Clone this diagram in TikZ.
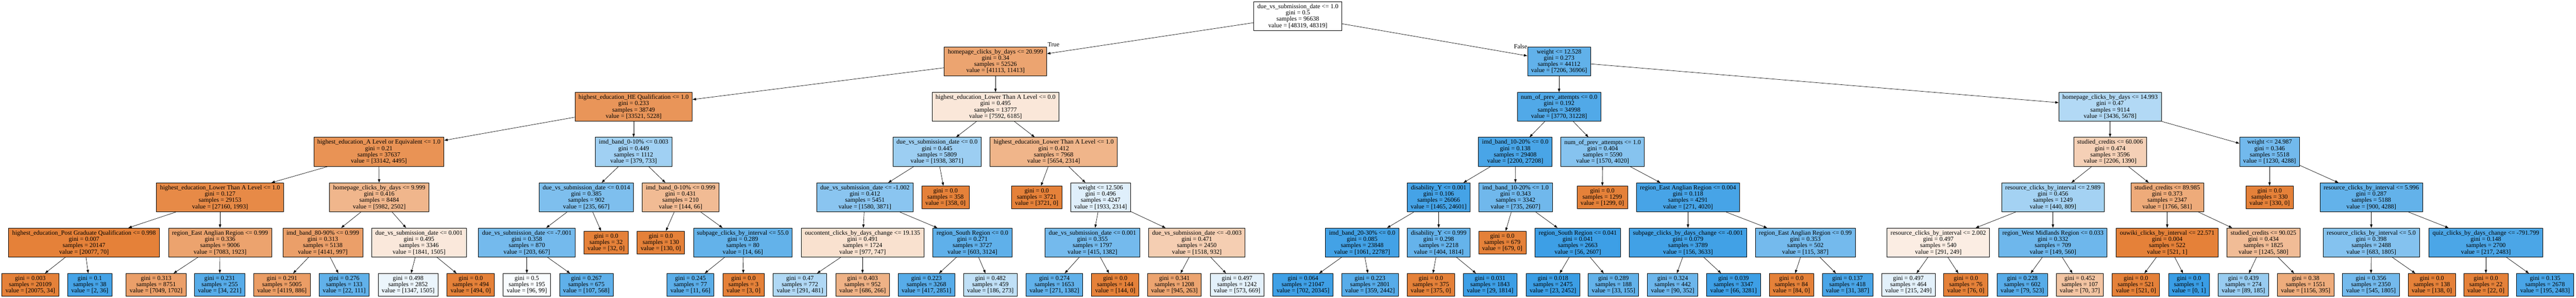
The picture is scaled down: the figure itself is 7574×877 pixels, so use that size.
\documentclass[tikz,border=0pt]{standalone}
\usepackage{fontspec}
\setmainfont{Liberation Serif}
\usetikzlibrary{arrows.meta}
\definecolor{clsa}{RGB}{229,129,57}
\definecolor{clsb}{RGB}{57,157,229}
\def\rowlist{{47.5,180.5,314.5,447,581,714,838.5}}
\newcommand{\boxfill}[2]{\ifnum#1<#2\relax\edef\shadepct{\fpeval{round(100*(1-#1/#2))}}\colorlet{boxcol}{clsb!\shadepct!white}\else\edef\shadepct{\fpeval{round(100*(1-#2/#1))}}\colorlet{boxcol}{clsa!\shadepct!white}\fi}
\newcommand{\dnode}[8]{\boxfill{#7}{#8}\pgfmathsetmacro{\rowy}{\rowlist[#3]}\node[splitbox,fill=boxcol](#1) at (#2,-\rowy) {#4\\gini = #5\\samples = #6\\value = [#7, #8]};}
\newcommand{\leaf}[7]{\boxfill{#6}{#7}\pgfmathsetmacro{\rowy}{\rowlist[#3]}\node[leafbox,fill=boxcol](#1) at (#2,-\rowy) {gini = #4\\samples = #5\\value = [#6, #7]};}
\newcommand{\branch}[2]{\draw[arr] (#1) -- (#2);}

\begin{document}
\begin{tikzpicture}[x=1pt,y=1pt,
	every node/.style={font=\fontsize{18.5}{18.6}\selectfont},
	splitbox/.style={draw,line width=1.2pt,align=center,inner xsep=10.5pt,inner ysep=0pt,minimum height=85.5pt},
	leafbox/.style={splitbox,minimum height=67pt},
	arr/.style={-{Triangle[length=10pt,width=7pt]},line width=1pt},
	edgelab/.style={inner sep=0pt}]
			\useasboundingbox (0,0) rectangle (7574,-877);
			\dnode{0}{3816}{0}{due\_vs\_submission\_date <= 1.0}{0.5}{96638}{48319}{48319}
			\dnode{1}{2927}{1}{homepage\_clicks\_by\_days <= 20.999}{0.34}{52526}{41113}{11413}
			\dnode{2}{1863}{2}{highest\_education\_HE Qualification <= 1.0}{0.233}{38749}{33521}{5228}
			\dnode{3}{1114}{3}{highest\_education\_A Level or Equivalent <= 1.0}{0.21}{37637}{33142}{4495}
			\dnode{4}{647}{4}{highest\_education\_Lower Than A Level <= 1.0}{0.127}{29153}{27160}{1993}
			\dnode{5}{247}{5}{highest\_education\_Post Graduate Qualification <= 0.998}{0.007}{20147}{20077}{70}
			\leaf{6}{89}{6}{0.003}{20109}{20075}{34}
			\leaf{7}{264}{6}{0.1}{38}{2}{36}
			\dnode{8}{647}{5}{region\_East Anglian Region <= 0.999}{0.336}{9006}{7083}{1923}
			\leaf{9}{459}{6}{0.313}{8751}{7049}{1702}
			\leaf{10}{646}{6}{0.231}{255}{34}{221}
			\dnode{11}{1115}{4}{homepage\_clicks\_by\_days <= 9.999}{0.416}{8484}{5982}{2502}
			\dnode{12}{949}{5}{imd\_band\_80-90\% <= 0.999}{0.313}{5138}{4141}{997}
			\leaf{13}{829}{6}{0.291}{5005}{4119}{886}
			\leaf{14}{1012}{6}{0.276}{133}{22}{111}
			\dnode{15}{1232}{5}{due\_vs\_submission\_date <= 0.001}{0.495}{3346}{1841}{1505}
			\leaf{16}{1200}{6}{0.498}{2852}{1347}{1505}
			\leaf{17}{1384}{6}{0.0}{494}{494}{0}
			\dnode{18}{1863}{3}{imd\_band\_0-10\% <= 0.003}{0.449}{1112}{379}{733}
			\dnode{19}{1724}{4}{due\_vs\_submission\_date <= 0.014}{0.385}{902}{235}{667}
			\dnode{20}{1549}{5}{due\_vs\_submission\_date <= -7.001}{0.358}{870}{203}{667}
			\leaf{21}{1549}{6}{0.5}{195}{96}{99}
			\leaf{22}{1724}{6}{0.267}{675}{107}{568}
			\leaf{23}{1782}{5}{0.0}{32}{32}{0}
			\dnode{24}{2001}{4}{imd\_band\_0-10\% <= 0.999}{0.431}{210}{144}{66}
			\leaf{25}{1943}{5}{0.0}{130}{130}{0}
			\dnode{26}{2184}{5}{subpage\_clicks\_by\_interval <= 55.0}{0.289}{80}{14}{66}
			\leaf{27}{2030}{6}{0.245}{77}{11}{66}
			\leaf{28}{2186}{6}{0.0}{3}{3}{0}
			\dnode{29}{2927}{2}{highest\_education\_Lower Than A Level <= 0.0}{0.495}{13777}{7592}{6185}
			\dnode{30}{2755}{3}{due\_vs\_submission\_date <= 0.0}{0.445}{5809}{1938}{3871}
			\dnode{31}{2543}{4}{due\_vs\_submission\_date <= -1.002}{0.412}{5451}{1580}{3871}
			\dnode{32}{2536}{5}{oucontent\_clicks\_by\_days\_change <= 19.135}{0.491}{1724}{977}{747}
			\leaf{33}{2352}{6}{0.47}{772}{291}{481}
			\leaf{34}{2536}{6}{0.403}{952}{686}{266}
			\dnode{35}{2859}{5}{region\_South Region <= 0.0}{0.271}{3727}{603}{3124}
			\leaf{36}{2724}{6}{0.223}{3268}{417}{2851}
			\leaf{37}{2912}{6}{0.482}{459}{186}{273}
			\leaf{38}{2780}{4}{0.0}{358}{358}{0}
			\dnode{39}{3098}{3}{highest\_education\_Lower Than A Level <= 1.0}{0.412}{7968}{5654}{2314}
			\leaf{40}{3048}{4}{0.0}{3721}{3721}{0}
			\dnode{41}{3236}{4}{weight <= 12.506}{0.496}{4247}{1933}{2314}
			\dnode{42}{3212}{5}{due\_vs\_submission\_date <= 0.001}{0.355}{1797}{415}{1382}
			\leaf{43}{3100}{6}{0.274}{1653}{271}{1382}
			\leaf{44}{3279}{6}{0.0}{144}{144}{0}
			\dnode{45}{3519}{5}{due\_vs\_submission\_date <= -0.003}{0.471}{2450}{1518}{932}
			\leaf{46}{3453}{6}{0.341}{1208}{945}{263}
			\leaf{47}{3637}{6}{0.497}{1242}{573}{669}
			\dnode{48}{4584}{1}{weight <= 12.528}{0.273}{44112}{7206}{36906}
			\dnode{49}{4584}{2}{num\_of\_prev\_attempts <= 0.0}{0.192}{34998}{3770}{31228}
			\dnode{50}{4455}{3}{imd\_band\_10-20\% <= 0.0}{0.138}{29408}{2200}{27208}
			\dnode{51}{4230}{4}{disability\_Y <= 0.001}{0.106}{26066}{1465}{24601}
			\dnode{52}{4005}{5}{imd\_band\_20-30\% <= 0.0}{0.085}{23848}{1061}{22787}
			\leaf{53}{3831}{6}{0.064}{21047}{702}{20345}
			\leaf{54}{4028}{6}{0.223}{2801}{359}{2442}
			\dnode{55}{4230}{5}{disability\_Y <= 0.999}{0.298}{2218}{404}{1814}
			\leaf{56}{4207}{6}{0.0}{375}{375}{0}
			\leaf{57}{4381}{6}{0.031}{1843}{29}{1814}
			\dnode{58}{4456}{4}{imd\_band\_10-20\% <= 1.0}{0.343}{3342}{735}{2607}
			\leaf{59}{4417}{5}{0.0}{679}{679}{0}
			\dnode{60}{4639}{5}{region\_South Region <= 0.041}{0.041}{2663}{56}{2607}
			\leaf{61}{4566}{6}{0.018}{2475}{23}{2452}
			\leaf{62}{4744}{6}{0.289}{188}{33}{155}
			\dnode{63}{4712}{3}{num\_of\_prev\_attempts <= 1.0}{0.404}{5590}{1570}{4020}
			\leaf{64}{4711}{4}{0.0}{1299}{1299}{0}
			\dnode{65}{4963}{4}{region\_East Anglian Region <= 0.004}{0.118}{4291}{271}{4020}
			\dnode{66}{4963}{5}{subpage\_clicks\_by\_days\_change <= -0.001}{0.079}{3789}{156}{3633}
			\leaf{67}{4918}{6}{0.324}{442}{90}{352}
			\leaf{68}{5097}{6}{0.039}{3347}{66}{3281}
			\dnode{69}{5308}{5}{region\_East Anglian Region <= 0.99}{0.353}{502}{115}{387}
			\leaf{70}{5267}{6}{0.0}{84}{84}{0}
			\leaf{71}{5432}{6}{0.137}{418}{31}{387}
			\dnode{72}{6204}{2}{homepage\_clicks\_by\_days <= 14.993}{0.47}{9114}{3436}{5678}
			\dnode{73}{6204}{3}{studied\_credits <= 60.006}{0.474}{3596}{2206}{1390}
			\dnode{74}{6036}{4}{resource\_clicks\_by\_interval <= 2.989}{0.456}{1249}{440}{809}
			\dnode{75}{5699}{5}{resource\_clicks\_by\_interval <= 2.002}{0.497}{540}{291}{249}
			\leaf{76}{5611}{6}{0.497}{464}{215}{249}
			\leaf{77}{5780}{6}{0.0}{76}{76}{0}
			\dnode{78}{6036}{5}{region\_West Midlands Region <= 0.033}{0.332}{709}{149}{560}
			\leaf{79}{5946}{6}{0.228}{602}{79}{523}
			\leaf{80}{6115}{6}{0.452}{107}{70}{37}
			\dnode{81}{6372}{4}{studied\_credits <= 89.985}{0.373}{2347}{1766}{581}
			\dnode{82}{6372}{5}{ouwiki\_clicks\_by\_interval <= 22.571}{0.004}{522}{521}{1}
			\leaf{83}{6280}{6}{0.0}{521}{521}{0}
			\leaf{84}{6436}{6}{0.0}{1}{0}{1}
			\dnode{85}{6655}{5}{studied\_credits <= 90.025}{0.434}{1825}{1245}{580}
			\leaf{86}{6596}{6}{0.439}{274}{89}{185}
			\leaf{87}{6779}{6}{0.38}{1551}{1156}{395}
			\dnode{88}{6673}{3}{weight <= 24.987}{0.346}{5518}{1230}{4288}
			\leaf{89}{6673}{4}{0.0}{330}{330}{0}
			\dnode{90}{6972}{4}{resource\_clicks\_by\_interval <= 5.996}{0.287}{5188}{900}{4288}
			\dnode{91}{6972}{5}{resource\_clicks\_by\_interval <= 5.0}{0.398}{2488}{683}{1805}
			\leaf{92}{6971}{6}{0.356}{2350}{545}{1805}
			\leaf{93}{7150}{6}{0.0}{138}{138}{0}
			\dnode{94}{7309}{5}{quiz\_clicks\_by\_days\_change <= -791.799}{0.148}{2700}{217}{2483}
			\leaf{95}{7309}{6}{0.0}{22}{22}{0}
			\leaf{96}{7483}{6}{0.135}{2678}{195}{2483}

			\node[edgelab,anchor=base west,xshift=2pt](truelab) at (1.north east) {True};
			\node[edgelab,anchor=east](falselab) at (48.north west) {False};

			\branch{0}{1} \branch{0}{48}
			\branch{1}{2} \branch{1}{29}
			\branch{2}{3} \branch{2}{18}
			\branch{3}{4} \branch{3}{11}
			\branch{4}{5} \branch{4}{8}
			\branch{5}{6} \branch{5}{7}
			\branch{8}{9} \branch{8}{10}
			\branch{11}{12} \branch{11}{15}
			\branch{12}{13} \branch{12}{14}
			\branch{15}{16} \branch{15}{17}
			\branch{18}{19} \branch{18}{24}
			\branch{19}{20} \branch{19}{23}
			\branch{20}{21} \branch{20}{22}
			\branch{24}{25} \branch{24}{26}
			\branch{26}{27} \branch{26}{28}
			\branch{29}{30} \branch{29}{39}
			\branch{30}{31} \branch{30}{38}
			\branch{31}{32} \branch{31}{35}
			\branch{32}{33} \branch{32}{34}
			\branch{35}{36} \branch{35}{37}
			\branch{39}{40} \branch{39}{41}
			\branch{41}{42} \branch{41}{45}
			\branch{42}{43} \branch{42}{44}
			\branch{45}{46} \branch{45}{47}
			\branch{48}{49} \branch{48}{72}
			\branch{49}{50} \branch{49}{63}
			\branch{50}{51} \branch{50}{58}
			\branch{51}{52} \branch{51}{55}
			\branch{52}{53} \branch{52}{54}
			\branch{55}{56} \branch{55}{57}
			\branch{58}{59} \branch{58}{60}
			\branch{60}{61} \branch{60}{62}
			\branch{63}{64} \branch{63}{65}
			\branch{65}{66} \branch{65}{69}
			\branch{66}{67} \branch{66}{68}
			\branch{69}{70} \branch{69}{71}
			\branch{72}{73} \branch{72}{88}
			\branch{73}{74} \branch{73}{81}
			\branch{74}{75} \branch{74}{78}
			\branch{75}{76} \branch{75}{77}
			\branch{78}{79} \branch{78}{80}
			\branch{81}{82} \branch{81}{85}
			\branch{82}{83} \branch{82}{84}
			\branch{85}{86} \branch{85}{87}
			\branch{88}{89} \branch{88}{90}
			\branch{90}{91} \branch{90}{94}
			\branch{91}{92} \branch{91}{93}
			\branch{94}{95} \branch{94}{96}
		\end{tikzpicture}
\end{document}
